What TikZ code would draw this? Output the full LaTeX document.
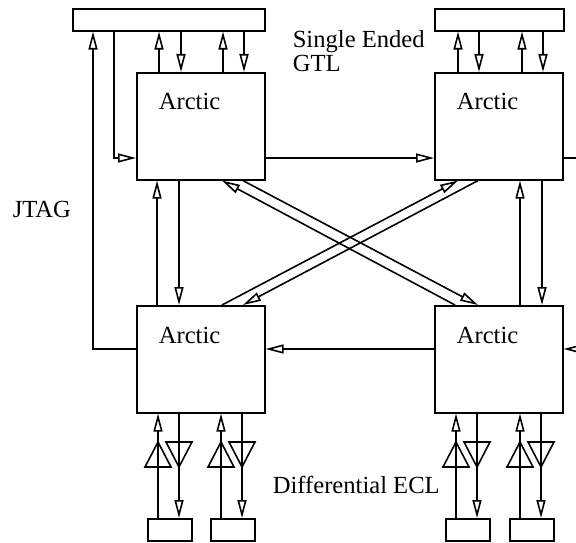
\documentclass[tikz,border=0pt]{standalone}
\usepackage{fontspec}
\setmainfont{Liberation Serif}
\usetikzlibrary{positioning,arrows.meta,calc}

\begin{document}
\begin{tikzpicture}[x=1pt, y=-1pt, line width=1.6pt,
    >={Triangle[open, length=18pt, width=9pt]},
    arctic/.style={draw, inner sep=0pt, anchor=north west, minimum width=128pt, minimum height=107pt},
    bus/.style={draw, inner sep=0pt, anchor=north west, minimum height=22pt},
    pad/.style={draw, inner sep=0pt, anchor=north west, minimum width=44pt, minimum height=22pt},
    lbl/.style={font=\fontsize{24.6}{24.5}\selectfont, inner sep=0pt, anchor=base west, align=left}]
    \useasboundingbox (0,0) rectangle (576,543);

    % --- Arctic chips ---
    \node[arctic] (tl) at (136,72) {};
    \node[arctic] (tr) at (434,72) {};
    \node[arctic] (bl) at (136,305) {};
    \node[arctic] (br) at (434,305) {};
    \foreach \b in {tl,tr,bl,br}
        \node[lbl] (\b lbl) at ($(\b.north west)+(22,38)$) {Arctic};

    % --- GTL buses and ECL pads ---
    \node[bus, minimum width=192pt] (tlbus) at (72,8) {};
    \node[bus, minimum width=129pt] (trbus) at (434,8) {};
    \node[pad] (p1) at (147,518) {};
    \node[pad] (p2) at (210,518) {};
    \node[pad] (p3) at (445,518) {};
    \node[pad] (p4) at (509,518) {};

    % Labels
    \node[lbl] (gtl) at (292,72) {Single Ended\\GTL};
    \node[lbl] (jtag) at (12,217) {JTAG};
    \node[lbl] (ecl) at (272,493) {Differential ECL};

    % Bus links (up / down)
    \foreach \x in {159,223} \draw[->] (\x,0 |- tl.north) -- (\x,0 |- tlbus.south);
    \foreach \x in {181,244} \draw[->] (\x,0 |- tlbus.south) -- (\x,0 |- tl.north);
    \foreach \x in {458,522} \draw[->] (\x,0 |- tr.north) -- (\x,0 |- trbus.south);
    \foreach \x in {479,543} \draw[->] (\x,0 |- trbus.south) -- (\x,0 |- tr.north);

    % Chip to chip
    \draw[->] (157,0 |- bl.north) -- (157,0 |- tl.south);
    \draw[->] (179,0 |- tl.south) -- (179,0 |- bl.north);
    \draw[->] (520,0 |- br.north) -- (520,0 |- tr.south);
    \draw[->] (542,0 |- tr.south) -- (542,0 |- br.north);
    \draw[->] (455,0 |- br.north) -- (222,0 |- tl.south);
    \draw[->] (243,0 |- tl.south) -- (478,0 |- br.north);
    \draw[->] (222,0 |- bl.north) -- (458,0 |- tr.south);
    \draw[->] (478,0 |- tr.south) -- (243,0 |- bl.north);
    \draw[->] (tl.east |- 0,158) -- (tr.west |- 0,158);
    \draw[->] (br.west |- 0,349) -- (bl.east |- 0,349);

    % JTAG chain
    \draw[->] (bl.west |- 0,349) -| (93,0 |- tlbus.south);
    \draw[->] (114,0 |- tlbus.south) |- (tl.west |- 0,158);
    \coordinate (eout) at (576,158);
    \coordinate (ein) at (576,349);
    \draw (tr.east |- eout) -- (eout);
    \draw[->] (ein) -- (br.east |- ein);

    % ECL links with buffers
    \foreach \p/\b in {p1/bl,p2/bl,p3/br,p4/br} {
        \draw[->] ([xshift=11pt]\p.north west) -- ([xshift=11pt]\p.north west |- \b.south);
        \draw[->] ([xshift=32pt]\p.north west |- \b.south) -- ([xshift=32pt]\p.north west);
    }
    \foreach \u in {158,221,456,520}
        \draw (\u-13,467) -- (\u,442) -- (\u+13,467) -- cycle;
    \foreach \d in {179,242,477,541}
        \draw (\d-13,442) -- (\d+13,442) -- (\d,467) -- cycle;
\end{tikzpicture}
\end{document}
